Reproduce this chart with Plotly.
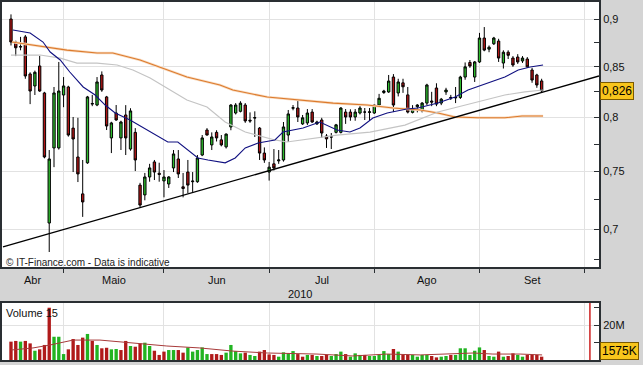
import math
import pandas as pd
import plotly.graph_objects as go

# ---------------- data ----------------
dates = pd.bdate_range("2010-04-16", "2010-09-20")
axis_dates = pd.bdate_range("2010-04-16", "2010-10-01")

open_ = [0.900, 0.8756, 0.8704, 0.881, 0.8428, 0.8308, 0.8509, 0.8239, 0.7053, 0.7715,
         0.7715, 0.8219, 0.8298, 0.790, 0.7632, 0.7303, 0.7579, 0.8130, 0.8121, 0.8418,
         0.820, 0.7808, 0.8044, 0.7808, 0.8025, 0.7705, 0.7860, 0.738, 0.7294, 0.7452,
         0.7587, 0.7485, 0.7417, 0.7390, 0.7533, 0.7614, 0.7365, 0.7496, 0.741, 0.741,
         0.765, 0.7882, 0.7743, 0.786, 0.7790, 0.7725, 0.7911, 0.8044, 0.806, 0.8121,
         0.7975, 0.7995, 0.790, 0.7668, 0.7496, 0.757, 0.7597, 0.7605, 0.7835, 0.8090,
         0.8092, 0.7940, 0.7949, 0.8053, 0.7940, 0.7977, 0.7826, 0.7817, 0.786, 0.786,
         0.8053, 0.8053, 0.8006, 0.8044, 0.8053, 0.8050, 0.8044, 0.8121, 0.8243, 0.8249,
         0.8397, 0.8239, 0.8339, 0.8220, 0.8050, 0.8105, 0.8063, 0.8140, 0.8160, 0.8288,
         0.8140, 0.8249, 0.8195, 0.8190, 0.8195, 0.8397, 0.8545, 0.8397, 0.8550, 0.8798,
         0.8682, 0.8738, 0.8766, 0.8539, 0.8650, 0.8590, 0.8600, 0.8560, 0.8580, 0.8468,
         0.8418, 0.8358]
high = [0.905, 0.8770, 0.881, 0.883, 0.8445, 0.8462, 0.8611, 0.825, 0.7696, 0.8298,
        0.855, 0.8397, 0.831, 0.8006, 0.7998, 0.7605, 0.821, 0.822, 0.8397, 0.8454,
        0.821, 0.796, 0.8121, 0.797, 0.812, 0.809, 0.790, 0.740, 0.7488, 0.757,
        0.7605, 0.758, 0.7514, 0.746, 0.7696, 0.7696, 0.7488, 0.7605, 0.7496, 0.765,
        0.7835, 0.790, 0.786, 0.788, 0.7835, 0.785, 0.813, 0.8140, 0.8158, 0.8140,
        0.805, 0.806, 0.791, 0.772, 0.7587, 0.7705, 0.7696, 0.7958, 0.8073, 0.8121,
        0.8168, 0.8025, 0.8082, 0.8082, 0.797, 0.7998, 0.7844, 0.7854, 0.794, 0.8100,
        0.8082, 0.808, 0.8082, 0.811, 0.8092, 0.8092, 0.8130, 0.823, 0.827, 0.8418,
        0.8427, 0.838, 0.838, 0.8298, 0.812, 0.8130, 0.815, 0.8330, 0.8250, 0.8335,
        0.819, 0.829, 0.8220, 0.8298, 0.841, 0.8545, 0.857, 0.856, 0.8852, 0.8914,
        0.872, 0.8810, 0.879, 0.867, 0.867, 0.861, 0.8630, 0.861, 0.860, 0.849,
        0.843, 0.838]
low = [0.872, 0.861, 0.867, 0.838, 0.813, 0.8219, 0.825, 0.762, 0.6813, 0.754,
       0.770, 0.810, 0.782, 0.7496, 0.7407, 0.7105, 0.757, 0.811, 0.811, 0.825,
       0.7882, 0.7668, 0.797, 0.7696, 0.765, 0.769, 0.7505, 0.7185, 0.7247, 0.741,
       0.7425, 0.741, 0.7273, 0.7355, 0.7496, 0.7443, 0.7273, 0.7309, 0.732, 0.740,
       0.764, 0.783, 0.7696, 0.7775, 0.773, 0.771, 0.788, 0.803, 0.805, 0.795,
       0.795, 0.7817, 0.7605, 0.7579, 0.742, 0.751, 0.757, 0.759, 0.777, 0.807,
       0.7958, 0.793, 0.793, 0.795, 0.793, 0.7808, 0.7715, 0.7705, 0.785, 0.785,
       0.7940, 0.797, 0.797, 0.803, 0.7977, 0.797, 0.8035, 0.811, 0.823, 0.824,
       0.8053, 0.8205, 0.824, 0.804, 0.804, 0.805, 0.805, 0.812, 0.8110, 0.811,
       0.812, 0.822, 0.8170, 0.8140, 0.818, 0.837, 0.849, 0.8348, 0.854, 0.866,
       0.865, 0.8725, 0.855, 0.8483, 0.858, 0.850, 0.8530, 0.854, 0.849, 0.834,
       0.829, 0.824]
close = [0.8756, 0.8696, 0.8708, 0.8408, 0.8258, 0.8445, 0.8258, 0.7632, 0.7614, 0.8239,
         0.8258, 0.8308, 0.7835, 0.7798, 0.7479, 0.7233, 0.820, 0.8136, 0.8348, 0.8268,
         0.7920, 0.7949, 0.7977, 0.7958, 0.7808, 0.8064, 0.7605, 0.7206, 0.7452, 0.7533,
         0.7496, 0.7475, 0.7452, 0.7452, 0.766, 0.7479, 0.735, 0.738, 0.7415, 0.7623,
         0.7808, 0.7835, 0.7817, 0.7808, 0.7743, 0.7844, 0.8121, 0.8121, 0.8139, 0.7968,
         0.7968, 0.800, 0.7668, 0.7605, 0.754, 0.7533, 0.7605, 0.7911, 0.8035, 0.8095,
         0.8006, 0.7998, 0.8044, 0.7958, 0.7958, 0.7854, 0.7799, 0.7817, 0.7931, 0.8092,
         0.8006, 0.8006, 0.8053, 0.8092, 0.8053, 0.8055, 0.8121, 0.8187, 0.8258, 0.8357,
         0.8121, 0.8348, 0.830, 0.8053, 0.8080, 0.8121, 0.8140, 0.8318, 0.8150, 0.8130,
         0.8178, 0.8268, 0.8190, 0.8195, 0.8397, 0.8500, 0.8509, 0.8550, 0.8798, 0.8672,
         0.8702, 0.8798, 0.8590, 0.8650, 0.8618, 0.8519, 0.8550, 0.8590, 0.8500, 0.8367,
         0.8318, 0.826]
volume_m = [10.5, 10.9, 10.5, 10.9, 9.5, 5.3, 6.1, 8.6, 29.9, 13.3,
            13.3, 3.4, 6.1, 12.0, 8.6, 12.8, 14.9, 10.9, 8.6, 6.7,
            7.0, 6.1, 6.3, 5.7, 10.9, 8.0, 7.6, 9.5, 9.9, 8.0,
            5.3, 2.9, 4.8, 5.7, 5.7, 5.7, 4.2, 7.2, 4.8, 5.7,
            7.2, 3.4, 3.4, 3.4, 2.9, 4.2, 8.6, 5.1, 3.8, 4.2,
            2.9, 2.3, 4.8, 5.7, 3.2, 2.9, 1.9, 4.4, 3.8, 5.1,
            3.4, 1.9, 2.9, 2.9, 2.3, 2.3, 2.9, 2.3, 3.4, 4.8,
            3.4, 1.9, 3.8, 2.9, 2.9, 2.3, 2.3, 2.9, 5.1, 3.4,
            6.3, 4.8, 2.9, 2.9, 2.9, 1.9, 2.9, 2.9, 2.3, 1.5,
            1.9, 2.3, 2.9, 2.9, 6.7, 6.7, 2.9, 5.3, 7.2, 5.7,
            2.3, 1.9, 4.8, 1.9, 2.3, 3.8, 2.9, 1.9, 2.9, 2.9,
            2.9, 1.9]

# moving averages read at sampled sessions (session index, value)
ma_blue_x = [0.4, 4.0, 6.7, 8.2, 10.3, 12.3, 15.1, 17.6, 19.7, 21.8, 24.9, 28.5, 31.2, 32.8, 34.9,
             37.0, 39.1, 41.2, 44.8, 46.9, 49.0, 51.7, 55.2, 56.9, 61.1, 64.6, 68.2, 70.9, 73.0,
             75.7, 78.7, 82.8, 85.1, 89.3, 92.9, 95.6, 99.8, 103.3, 106.1, 108.6, 111.3]
ma_blue_y = [0.8882, 0.8851, 0.8756, 0.8652, 0.8570, 0.8448, 0.8298, 0.8219, 0.8121, 0.8044, 0.7977,
             0.7882, 0.7816, 0.7770, 0.7770, 0.7696, 0.7623, 0.7605, 0.7579, 0.7623, 0.7715, 0.7761,
             0.7789, 0.7863, 0.7901, 0.7958, 0.7882, 0.7863, 0.7901, 0.7996, 0.8044, 0.8082, 0.8092,
             0.8140, 0.8199, 0.8268, 0.8336, 0.8397, 0.8468, 0.8499, 0.8519]
ma_grey_x = [0.0, 6.1, 10.3, 13.8, 18.0, 22.2, 25.5, 29.1, 32.6, 36.8, 41.0, 44.8, 49.0, 55.2,
             57.7, 61.1, 68.2, 75.1, 82.4, 89.3, 96.4, 103.3, 107.5, 111.3]
ma_grey_y = [0.8621, 0.8621, 0.8590, 0.8539, 0.8539, 0.8519, 0.8468, 0.8387, 0.8288, 0.8170, 0.8102,
             0.7958, 0.7863, 0.7789, 0.7770, 0.7789, 0.7835, 0.7863, 0.7929, 0.8054, 0.8140, 0.8219,
             0.8249, 0.8268]
ma_orange_x = [0.2, 6.7, 11.7, 18.0, 21.3, 27.0, 32.6, 36.8, 43.7, 46.4, 53.6, 60.5, 67.4, 74.5,
               79.9, 85.6, 89.3, 92.9, 97.7, 103.3, 106.9, 111.3]
ma_orange_y = [0.8756, 0.8704, 0.8672, 0.8642, 0.8642, 0.8570, 0.8468, 0.8397, 0.8318, 0.8268, 0.8199,
               0.8170, 0.8140, 0.8121, 0.8092, 0.8073, 0.8044, 0.8006, 0.7998, 0.7998, 0.8015, 0.8015]
vol_ma_x = [0, 4.6, 8.2, 13.0, 18.6, 25.5, 32.6, 39.5, 46.4, 53.6, 64.0, 71.5, 78.7, 85.6, 91.2,
            96.7, 100.8, 106.5, 111.1]
vol_ma_y = [5.7, 6.9, 8.6, 11.4, 11.4, 9.7, 8.0, 6.9, 5.1, 4.0, 3.4, 2.3, 3.4, 2.9, 3.4, 4.0, 3.4, 3.4, 2.9]

trend_x = [-1.67, 123.0]
trend_y = [0.6854, 0.8408]

month_labels = ["Abr", "Maio", "Jun", "Jul", "Ago", "Set"]
price_ticks = [0.7, 0.75, 0.8, 0.85, 0.9]
price_tick_text = ["0,7", "0,75", "0,8", "0,85", "0,9"]
price_minor = [0.675, 0.725, 0.775, 0.825, 0.875]
last_price_text = "0,826"
last_volume_text = "1575K"

# ---------------- layout helpers ----------------
W, H = 643, 365
FONT = "Liberation Sans, Arial, sans-serif"
x_idx = list(range(len(close)))
x_range = [-1.88, 123.0]

# month boundaries: first session of each month
months = [d.month for d in axis_dates]
bounds = [i for i in range(1, len(axis_dates)) if months[i] != months[i - 1]]
edges = [x_range[0]] + bounds
centers = [(edges[i] + edges[i + 1]) / 2 for i in range(len(month_labels))]

def py(p):  # pixel row -> paper y
    return 1 - p / H

def px(p):  # pixel col -> paper x
    return p / W

main_dom = [py(267), py(2)]
vol_dom = [py(360), py(303)]
x_dom = [px(2), px(599)]

vol_colors = []
for i, c in enumerate(close):
    up = i > 0 and c >= close[i - 1]
    vol_colors.append("#22b422" if up else "#b01a1a")

fig = go.Figure()
fig.add_trace(go.Scatter(x=ma_orange_x, y=ma_orange_y, mode="lines",
                         line=dict(color="#f8dcc2", width=2.6), hoverinfo="skip"))
fig.add_trace(go.Scatter(x=ma_orange_x, y=ma_orange_y, mode="lines",
                         line=dict(color="#dc7a2c", width=1.1), hoverinfo="skip"))
fig.add_trace(go.Scatter(x=ma_grey_x, y=ma_grey_y, mode="lines",
                         line=dict(color="#c4c4c4", width=1.2), hoverinfo="skip"))
fig.add_trace(go.Scatter(x=ma_blue_x, y=ma_blue_y, mode="lines",
                         line=dict(color="#101080", width=1.1), hoverinfo="skip"))
fig.add_trace(go.Scatter(x=trend_x, y=trend_y, mode="lines",
                         line=dict(color="#000000", width=1.3), hoverinfo="skip"))
fig.add_trace(go.Candlestick(
    x=x_idx, open=open_, high=high, low=low, close=close,
    increasing=dict(line=dict(color="#000000", width=1), fillcolor="#2dbb2d"),
    decreasing=dict(line=dict(color="#000000", width=1), fillcolor="#b01515"),
    whiskerwidth=0, xaxis="x", yaxis="y"))
fig.add_trace(go.Bar(x=x_idx, y=volume_m, marker=dict(color=vol_colors, line=dict(width=0)),
                     xaxis="x2", yaxis="y2", hoverinfo="skip"))
fig.add_trace(go.Scatter(x=vol_ma_x, y=vol_ma_y, mode="lines", line=dict(color="#a83a3a", width=1),
                         xaxis="x2", yaxis="y2", hoverinfo="skip"))

axis_line = dict(showline=True, mirror=True, linecolor="#2a2f33", linewidth=2, zeroline=False)
grid = "#e2e2e2"

fig.update_layout(
    width=W, height=H, margin=dict(l=0, r=0, t=0, b=0),
    paper_bgcolor="#d4d4d4", plot_bgcolor="#ffffff",
    showlegend=False, bargap=0.3,
    font=dict(family=FONT, size=11, color="#111111"),
    xaxis=dict(domain=x_dom, range=x_range, anchor="y", tickmode="array", tickvals=bounds,
               showticklabels=False, ticks="outside", ticklen=4, tickcolor="#2a2f33",
               showgrid=True, gridcolor=grid, rangeslider=dict(visible=False), **axis_line),
    yaxis=dict(domain=main_dom, type="log", range=[math.log10(0.6692), math.log10(0.9185)],
               side="right", anchor="x", tickmode="array", tickvals=price_ticks,
               ticktext=price_tick_text, ticks="inside", ticklen=5, tickcolor="#2a2f33",
               showgrid=True, gridcolor=grid,
               minor=dict(tickmode="array", tickvals=price_minor, ticks="inside", ticklen=5,
                          tickcolor="#2a2f33", showgrid=False),
               tickfont=dict(size=11), **axis_line),
    xaxis2=dict(domain=x_dom, range=x_range, anchor="y2", matches="x", tickmode="array",
                tickvals=bounds, showticklabels=False, ticks="", showgrid=True, gridcolor=grid,
                **axis_line),
    yaxis2=dict(domain=vol_dom, range=[0, 32.6], side="right", anchor="x2", tickmode="array",
                tickvals=[20], ticktext=["20M"], ticks="inside", ticklen=5, tickcolor="#2a2f33",
                showgrid=True, gridcolor=grid,
                minor=dict(tickmode="array", tickvals=[10, 30], ticks="inside", ticklen=5,
                           tickcolor="#2a2f33", showgrid=False),
                tickfont=dict(size=11), **axis_line),
)

ann = []
for lab, c in zip(month_labels, centers):
    ann.append(dict(x=c, y=py(280), xref="x", yref="paper", text=lab, showarrow=False,
                    font=dict(size=11), xanchor="center", yanchor="middle"))
ann.append(dict(x=px(300), y=py(294), xref="paper", yref="paper", text="2010", showarrow=False,
                font=dict(size=11), xanchor="center", yanchor="middle"))
ann.append(dict(x=px(4), y=py(262), xref="paper", yref="paper",
                text="© IT-Finance.com - Data is indicative", showarrow=False,
                font=dict(size=10, color="#222222"), xanchor="left", yanchor="middle"))
ann.append(dict(x=px(4), y=py(313), xref="paper", yref="paper", text="Volume 15", showarrow=False,
                font=dict(size=11), xanchor="left", yanchor="middle"))
ann.append(dict(x=px(600), y=math.log10(close[-1]), xref="paper", yref="y", text=last_price_text,
                showarrow=False, font=dict(size=12, color="#000000"), xanchor="left",
                yanchor="middle", bgcolor="#f8c51c", bordercolor="#7a5a00", borderwidth=1,
                borderpad=1))
ann.append(dict(x=px(600), y=py(351), xref="paper", yref="paper", text=last_volume_text,
                showarrow=False, font=dict(size=12, color="#000000"), xanchor="left",
                yanchor="middle", bgcolor="#f8c51c", bordercolor="#7a5a00", borderwidth=1,
                borderpad=1))
fig.update_layout(annotations=ann)

fig.add_shape(type="line", xref="x2", yref="paper", x0=121.1, x1=121.1,
              y0=vol_dom[0], y1=vol_dom[1], line=dict(color="#cc2020", width=1.5))

fig.write_html("out.html", config={"displayModeBar": False},
               post_script="document.body.style.margin='0px';")
